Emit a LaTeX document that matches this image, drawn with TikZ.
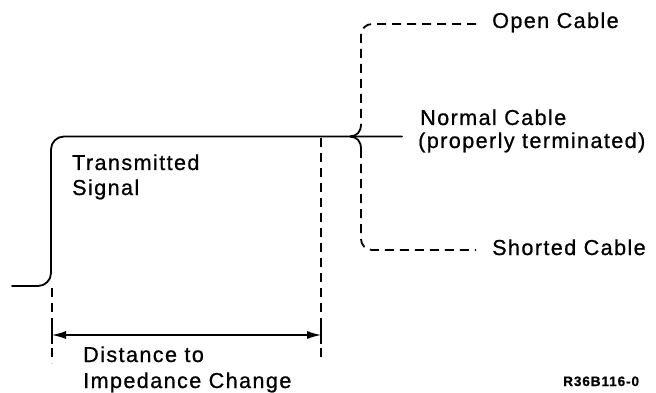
\documentclass[tikz,border=0pt]{standalone}
\usepackage{fontspec}
\setmainfont{Liberation Sans}[LetterSpace=6.5,FakeBold=0.8]
\usetikzlibrary{arrows.meta}
\begin{document}
\begin{tikzpicture}[x=1pt,y=-1pt,
  sig/.style={line width=1.8pt,line cap=round},
  dsh/.style={line width=1.8pt,dash pattern=on 9pt off 6pt},
  lbl/.style={anchor=base west,inner sep=0pt,font=\fontsize{21.6}{25}\selectfont},
  code/.style={anchor=base west,inner sep=0pt,font=\fontsize{13.6}{15}\selectfont\bfseries},
  dimarrow/.style={line width=1.2pt,{Latex[length=14pt,width=8pt]}-{Latex[length=14pt,width=8pt]}}]
\useasboundingbox (0,0) rectangle (656,393);
% coordinates
\coordinate (s0) at (12,286);
\coordinate (rise) at (51,136.5);
\coordinate (lend) at (402,136.5);
\coordinate (junc) at (350,136.5);
\coordinate (oend) at (476,24);
\coordinate (send) at (476,250);
\coordinate (dl) at (52,288);
\coordinate (dlb) at (52,363);
\coordinate (dr) at (321,138);
\coordinate (drb) at (321,358);
\coordinate (al) at (52,335);
\coordinate (ar) at (321,335);
% transmitted signal and normal cable
\draw[sig,rounded corners=13pt] (s0) -| (rise) -- (lend);
% open cable
\draw[dsh,rounded corners=11pt] (oend) -- (361,24) -- (361,124);
\draw[line width=1.8pt] (361,124) .. controls (361,132) and (357,136) .. (junc);
% shorted cable
\draw[line width=1.8pt] (junc) .. controls (357,137) and (361,141) .. (361,149);
\draw[dsh,rounded corners=11pt] (361,149) -- (361,250) -- (send);
% distance markers
\draw[dsh] (dl) -- (dlb);
\draw[dsh] (dr) -- (drb);
\draw[line width=1.8pt] (52,326) -- (52,344);
\draw[line width=1.8pt] (321,326) -- (321,344);
\draw[dimarrow] (al) -- (ar);
% labels
\node[lbl] (t1) at (72,170) {Transmitted};
\node[lbl] (t2) at (72,195) {Signal};
\node[lbl] (n1) at (420,125) {Normal Cable};
\node[lbl] (n2) at (418,148) {(properly terminated)};
\node[lbl] (o1) at (492,28) {Open Cable};
\node[lbl] (h1) at (492,255) {Shorted Cable};
\node[lbl] (d1) at (83,362) {Distance to};
\node[lbl] (d2) at (83,388) {Impedance Change};
\node[code] (c1) at (563,386) {R36B116-0};
\end{tikzpicture}
\end{document}
